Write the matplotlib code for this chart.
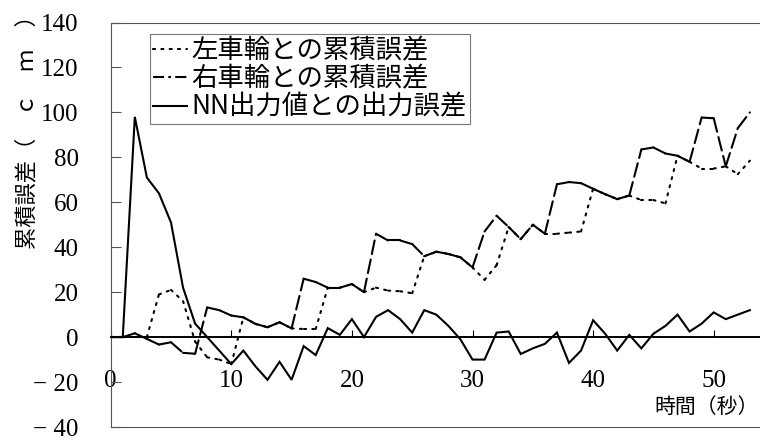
import matplotlib
matplotlib.use('Agg')
import matplotlib.pyplot as plt
from matplotlib.lines import Line2D

plt.rcParams['lines.scale_dashes'] = False

DPI = 100
W_PX, H_PX = 760, 442

# time axis (s) and the three error traces (cm)
t = list(range(54))
nn_err = [0, 0, 98, 71, 64, 51, 22, 6, 0, -6,
          -12, -6, -13, -19, -11, -19, -4, -8, 4, 1,
          8, 0, 9, 12, 8, 2, 12, 10, 5, -1,
          -10, -10, 2, 2.5, -7.5, -5, -3, 2, -11.5, -6,
          7.5, 1.5, -6, 1, -5, 1.5, 5, 10, 2.5, 6,
          11, 8, 10, 12]
left_err = [0, 0, 0, 0, 19, 21, 16, -2, -9, -10,
            -12, 8.8, 5.9, 4.4, 6.6, 3.9, 3.6, 3.6, 22, 22,
            23.6, 20, 22, 20.7, 20.4, 19.5, 36, 38, 37, 35.5,
            31, 25.5, 32, 49, 43.6, 50, 46, 46, 46.5, 47,
            66, 63.6, 61.4, 63, 61, 61, 59.5, 80.7, 78, 75,
            75, 76, 72.5, 78.5]
right_err = [0, 0, 1.7, -0.8, -3.3, -2.3, -7, -7.4, 13.2, 12,
             9.6, 8.8, 5.9, 4.4, 6.6, 3.9, 26, 24.5, 22, 22,
             23.6, 20, 46, 43, 43, 41.4, 36, 38, 37, 35.5,
             31, 47, 54, 49, 43.6, 50, 46, 68, 69, 68.5,
             66, 63.6, 61.4, 63, 83.5, 84.4, 81.7, 80.7, 78, 97.7,
             97.4, 76, 93, 100]

labels = ['左車輪との累積誤差', '右車輪との累積誤差', 'NN出力値との出力誤差']
x_ticks = [0, 10, 20, 30, 40, 50]
y_ticks = [-40, -20, 0, 20, 40, 60, 80, 100, 120, 140]
y_tick_labels = ['− 40', '− 20', '0', '20', '40', '60', '80', '100', '120', '140']

LW = 1.5
DOT = (1.5, 4.5)
DASH = (10, 4)
SERIF = 'Liberation Serif'
JP = 'Noto Sans CJK JP'
BOX = '#555555'


def plot_restart(ax, x, y, dashes):
    # dash pattern starts over on every segment, like the old pen plotter
    for i in range(len(x) - 1):
        ax.plot(x[i:i + 2], y[i:i + 2], color='black', lw=LW,
                dashes=dashes, dash_capstyle='round')


fig = plt.figure(figsize=(W_PX / DPI, H_PX / DPI), dpi=DPI)
left, right = 110.7, 760
top, bottom = 22.5, 427
ax = fig.add_axes([left / W_PX, 1 - bottom / H_PX,
                   (right - left) / W_PX, (bottom - top) / H_PX])

ax.plot(t, nn_err, color='black', lw=LW, solid_joinstyle='miter')
plot_restart(ax, t, left_err, DOT)
plot_restart(ax, t, right_err, DASH)

ax.set_xlim(0, (right - left) / 12.06)
ax.set_ylim(-40, 140)

# the x axis sits on the zero line; the frame keeps thin edges
ax.spines['bottom'].set_position(('data', 0))
ax.spines['bottom'].set_linewidth(1.4)
ax.spines['right'].set_visible(False)
for side in ('top', 'left'):
    ax.spines[side].set_linewidth(0.8)
    ax.spines[side].set_color(BOX)
ax.axhline(-40, color=BOX, lw=0.8, clip_on=False)

ax.set_xticks(x_ticks)
ax.set_xticklabels([str(v) for v in x_ticks], fontfamily=SERIF, fontsize=18)
ax.set_yticks(y_ticks)
ax.set_yticklabels(y_tick_labels, fontfamily=SERIF, fontsize=18)
ax.tick_params(axis='x', direction='in', length=5, width=0.8, pad=24)
ax.tick_params(axis='y', direction='in', length=7, width=0.8, pad=23, color=BOX)

ax.set_ylabel('累積誤差（　ｃ　ｍ　）', fontfamily=JP, fontsize=16, va='center')
ax.yaxis.set_label_coords(-0.129, 0.742)
ax.set_xlabel('時間（秒）', fontfamily=JP, fontsize=15, ha='right', va='center')
ax.xaxis.set_label_coords(0.998, 0.049)

handles = [Line2D([], [], color='black', lw=LW, dashes=DOT, dash_capstyle='round'),
           Line2D([], [], color='black', lw=LW, dashes=(8, 3, 2, 3)),
           Line2D([], [], color='black', lw=LW)]
leg = ax.legend(handles, labels, loc='upper left', bbox_to_anchor=(0.0605, 0.9716),
                borderaxespad=0, fancybox=False, handlelength=1.3, handletextpad=0.15,
                labelspacing=0.05, borderpad=0.12,
                prop={'family': JP, 'size': 19})
leg.get_frame().set_edgecolor(BOX)
leg.get_frame().set_linewidth(0.8)

fig.savefig('out.png', dpi=DPI, facecolor='white')
